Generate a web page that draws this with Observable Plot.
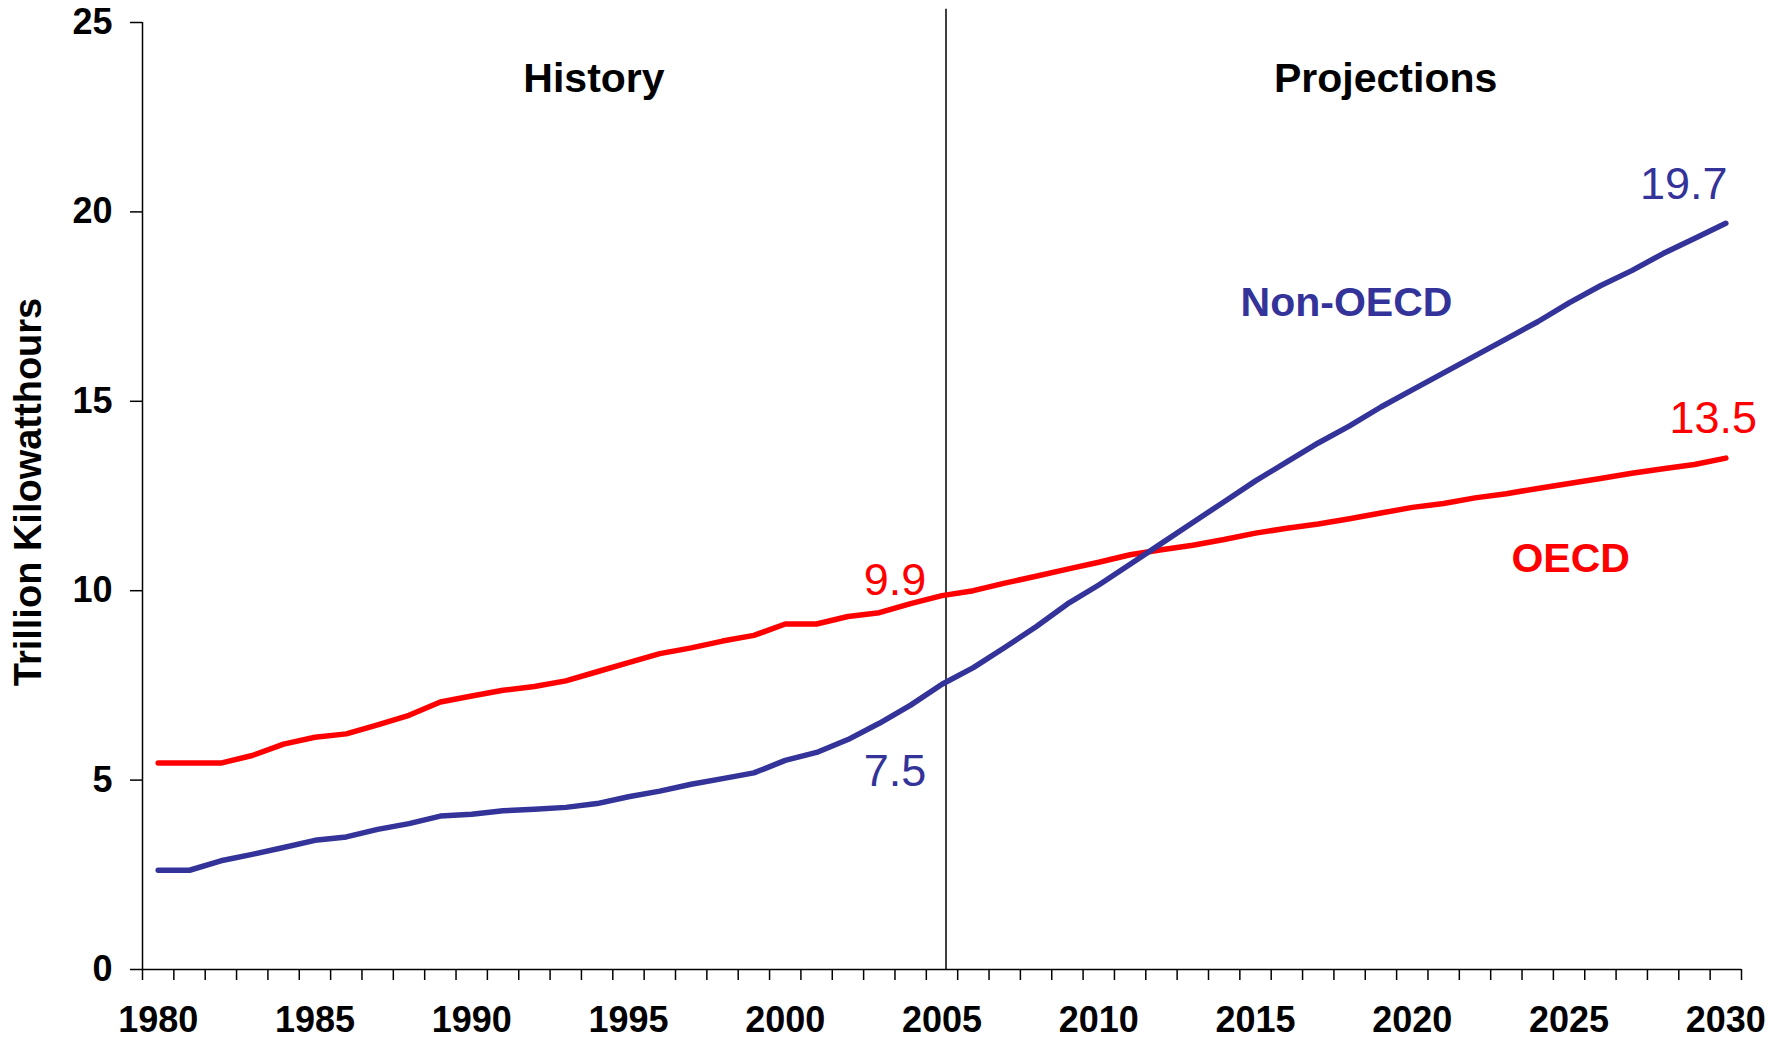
<!DOCTYPE html>
<html>
<head>
<meta charset="utf-8">
<script src="https://cdn.jsdelivr.net/npm/d3@7"></script>
<script src="https://cdn.jsdelivr.net/npm/@observablehq/plot@0.6"></script>
<style>
  html, body { margin: 0; padding: 0; background: #fff; overflow: hidden; }
  #chart svg { display: block; }
</style>
</head>
<body>
<div id="chart"></div>
<script>
// ---- Data ----
const years = [1980,1981,1982,1983,1984,1985,1986,1987,1988,1989,1990,1991,1992,1993,1994,1995,1996,1997,1998,1999,
  2000,2001,2002,2003,2004,2005,2006,2007,2008,2009,2010,2011,2012,2013,2014,2015,2016,2017,2018,2019,
  2020,2021,2022,2023,2024,2025,2026,2027,2028,2029,2030];

const oecd = [5.45,5.45,5.45,5.65,5.95,6.13,6.22,6.46,6.71,7.06,7.22,7.37,7.47,7.62,7.86,8.1,8.34,8.49,8.67,8.82,
  9.12,9.12,9.32,9.42,9.66,9.87,10.0,10.2,10.38,10.57,10.75,10.95,11.08,11.2,11.35,11.52,11.65,11.76,11.9,12.05,
  12.2,12.3,12.45,12.56,12.7,12.83,12.96,13.1,13.22,13.33,13.5];

const nonOecd = [2.62,2.62,2.87,3.04,3.22,3.41,3.5,3.7,3.85,4.05,4.1,4.19,4.23,4.28,4.38,4.56,4.71,4.89,5.04,5.19,
  5.52,5.73,6.07,6.5,6.98,7.53,7.97,8.5,9.05,9.65,10.15,10.7,11.25,11.8,12.35,12.9,13.4,13.9,14.35,14.85,
  15.3,15.75,16.2,16.65,17.1,17.6,18.05,18.45,18.9,19.3,19.7];

const yTicks = [0, 5, 10, 15, 20, 25];
const xLabelYears = [1980, 1985, 1990, 1995, 2000, 2005, 2010, 2015, 2020, 2025, 2030];
const periodLabels = ["History", "Projections"];
const seriesLabels = ["Non-OECD", "OECD"];
const valueLabels = ["19.7", "13.5", "9.9", "7.5"];
const dividerYear = 2005;
const yTitle = "Trillion Kilowatthours";

// ---- Build table ----
const table = years.map((year, i) => ({year, oecd: oecd[i], nonOecd: nonOecd[i]}));
const tickEdges = years.map(y => y - 0.5).concat([years[years.length - 1] + 0.5]);

const RED = "#FF0000";
const BLUE = "#333399";
const FONT = "'Liberation Sans', Arial, Helvetica, sans-serif";

const periodAnn = [
  {label: periodLabels[0], x: 1993.9, y: 23.5},
  {label: periodLabels[1], x: 2019.15, y: 23.5}
];
const seriesAnn = [
  {label: seriesLabels[0], x: 2017.9, y: 17.59, color: BLUE},
  {label: seriesLabels[1], x: 2025.05, y: 10.84, color: RED}
];
const valueAnn = [
  {label: valueLabels[0], x: 2028.66, y: 20.71, color: BLUE},
  {label: valueLabels[1], x: 2029.6, y: 14.54, color: RED},
  {label: valueLabels[2], x: 2003.5, y: 10.26, color: RED},
  {label: valueLabels[3], x: 2003.5, y: 5.22, color: BLUE}
];

const chart = Plot.plot({
  width: 1783,
  height: 1038,
  marginLeft: 142,
  marginRight: 42,
  marginTop: 22,
  marginBottom: 69,
  style: {fontFamily: FONT, background: "white", color: "black", overflow: "visible"},
  x: {domain: [tickEdges[0], tickEdges[tickEdges.length - 1]]},
  y: {domain: [0, 25]},
  marks: [
    Plot.axisY({ticks: yTicks, tickSize: 12, tickPadding: 18, fontSize: 36, fontWeight: "bold", label: null, strokeWidth: 1.5}),
    Plot.axisX({ticks: tickEdges, tickSize: 11, tickFormat: () => "", label: null, strokeWidth: 1.5}),
    Plot.axisX({ticks: xLabelYears, tickSize: 0, tickPadding: 37, fontSize: 36, fontWeight: "bold", tickFormat: d => String(d), label: null}),
    Plot.ruleY([0], {stroke: "black", strokeWidth: 1.5}),
    Plot.ruleX([tickEdges[0]], {stroke: "black", strokeWidth: 1.5}),
    Plot.ruleX([dividerYear], {y1: 0, y2: 25.35, dx: 4, stroke: "black", strokeWidth: 1.5, clip: false}),
    Plot.line(table, {x: "year", y: "oecd", stroke: RED, strokeWidth: 5.5}),
    Plot.line(table, {x: "year", y: "nonOecd", stroke: BLUE, strokeWidth: 5.5}),
    Plot.text(periodAnn, {x: "x", y: "y", text: "label", fill: "black", fontSize: 41, fontWeight: "bold"}),
    Plot.text(seriesAnn, {x: "x", y: "y", text: "label", fill: "color", fontSize: 41, fontWeight: "bold"}),
    Plot.text(valueAnn, {x: "x", y: "y", text: "label", fill: "color", fontSize: 45, fontWeight: "normal", clip: false}),
    Plot.text([yTitle], {frameAnchor: "left", textAnchor: "middle", dx: -114, dy: -4, rotate: -90, fontSize: 38, fontWeight: "bold", fill: "black"})
  ]
});

document.getElementById("chart").appendChild(chart);
</script>
</body>
</html>
